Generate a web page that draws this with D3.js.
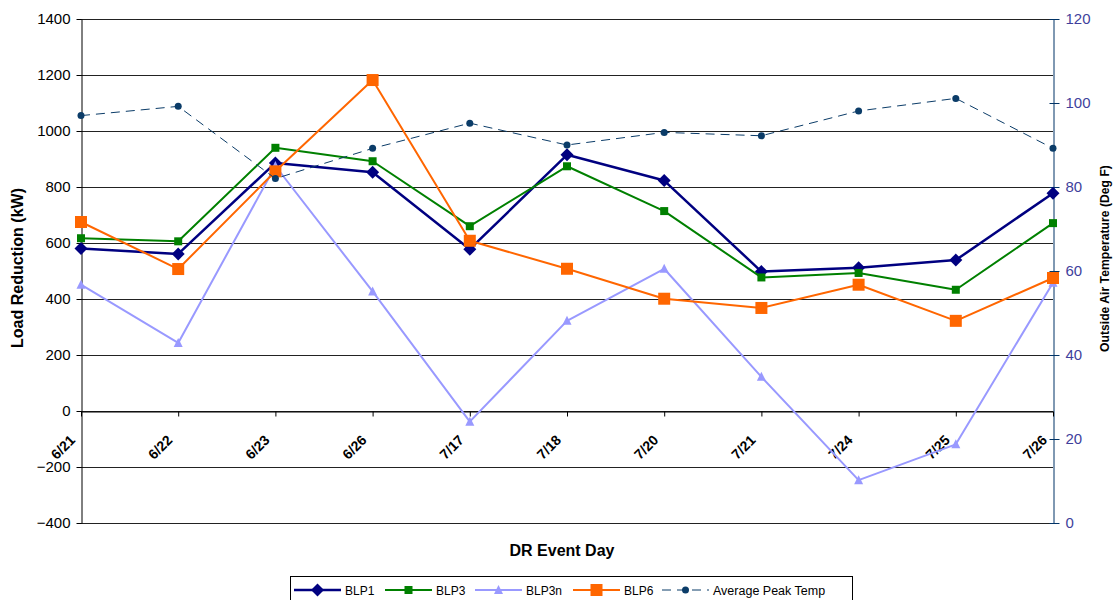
<!DOCTYPE html>
<html>
<head>
<meta charset="utf-8">
<script src="https://cdn.jsdelivr.net/npm/d3@7/dist/d3.min.js"></script>
<style>
  html, body { margin: 0; padding: 0; background: #fff; }
  svg { display: block; font-family: "Liberation Sans", Arial, sans-serif; }
</style>
</head>
<body>
<svg id="chart" width="1117" height="600"></svg>
<script>
// DR event days and measured load reduction (kW) per site
const days = ["6/21", "6/22", "6/23", "6/26", "7/17", "7/18", "7/20", "7/21", "7/24", "7/25", "7/26"];
const blp1  = [580, 561, 886, 853, 578, 915, 823, 498, 512, 539, 778];
const blp3  = [617, 606, 940, 892, 660, 874, 714, 477, 493, 433, 671];
const blp3n = [451, 243, 875, 427, -38, 322, 508, 122, -247, -119, 458];
const blp6  = [675, 507, 856, 1182, 608, 508, 401, 368, 451, 322, 475];
// Average peak outside air temperature (deg F), secondary axis
const peakTemp = [97.0, 99.2, 82.0, 89.2, 95.2, 90.0, 93.0, 92.2, 98.1, 101.1, 89.2];

const loadTicks = [-400, -200, 0, 200, 400, 600, 800, 1000, 1200, 1400];
const tempTicks = [0, 20, 40, 60, 80, 100, 120];

const svg = d3.select("#chart");
const plotLeft = 81, plotRight = 1053, plotTop = 19, plotBottom = 523;

const x = d3.scalePoint().domain(days).range([plotLeft, plotRight]);
const y = d3.scaleLinear().domain([-400, 1400]).range([plotBottom, plotTop]);
const y2 = d3.scaleLinear().domain([0, 120]).range([plotBottom, plotTop]);

// horizontal gridlines
svg.append("g")
  .selectAll("line")
  .data(loadTicks)
  .join("line")
  .attr("x1", plotLeft).attr("x2", plotRight)
  .attr("y1", d => Math.round(y(d)) + 0.5).attr("y2", d => Math.round(y(d)) + 0.5)
  .attr("stroke", "#222").attr("stroke-width", 1);

// left axis
const yAxis = svg.append("g")
  .attr("transform", `translate(${plotLeft + 0.5},0)`)
  .call(d3.axisLeft(y).tickValues(loadTicks).tickFormat(d3.format("d"))
    .tickSize(5).tickSizeOuter(0).tickPadding(6));
yAxis.select(".domain").attr("stroke", "#000");
yAxis.selectAll(".tick line").attr("stroke", "#000");
yAxis.selectAll(".tick text").attr("font-size", 15).attr("fill", "#000")
  .attr("font-family", "Liberation Sans, Arial, sans-serif");

// right axis (temperature)
const axisBlue = "#003366";
const y2Axis = svg.append("g")
  .attr("transform", `translate(${plotRight + 0.5},0)`)
  .call(d3.axisRight(y2).tickValues(tempTicks).tickFormat(d3.format("d"))
    .tickSize(6).tickSizeOuter(0).tickPadding(6));
y2Axis.select(".domain").attr("stroke", axisBlue);
y2Axis.selectAll(".tick line").attr("stroke", axisBlue).attr("x1", -4);
y2Axis.selectAll(".tick text").attr("font-size", 15).attr("fill", "#3f3f9c")
  .attr("font-family", "Liberation Sans, Arial, sans-serif");

// category axis along the zero line
const xAxis = svg.append("g")
  .attr("transform", `translate(0,${Math.round(y(0)) + 0.5})`)
  .call(d3.axisBottom(x).tickSize(5).tickSizeOuter(0).tickFormat(""));
xAxis.select(".domain").attr("stroke", "#000");
xAxis.selectAll(".tick line").attr("stroke", "#000");

svg.append("g")
  .selectAll("text")
  .data(days)
  .join("text")
  .attr("transform", d => `translate(${x(d) - 5},${y(0) + 30}) rotate(-45)`)
  .attr("text-anchor", "end")
  .attr("font-size", 14).attr("font-weight", "bold")
  .text(d => d);

// series
const lineGen = (scale) => d3.line().x((d, i) => x(days[i])).y(d => scale(d));

const series = [
  { name: "BLP1", values: blp1, color: "#000080", width: 2.5, marker: "diamond" },
  { name: "BLP3", values: blp3, color: "#008000", width: 2, marker: "square" },
  { name: "BLP3n", values: blp3n, color: "#9999ff", width: 2, marker: "triangle" },
  { name: "BLP6", values: blp6, color: "#ff6600", width: 2, marker: "bigsquare" }
];

function drawMarker(g, type, color, cx, cy) {
  if (type === "diamond") {
    g.append("path").attr("d", `M${cx},${cy - 6.5}L${cx + 6.5},${cy}L${cx},${cy + 6.5}L${cx - 6.5},${cy}Z`)
      .attr("fill", color);
  } else if (type === "square") {
    g.append("rect").attr("x", cx - 4).attr("y", cy - 4).attr("width", 8).attr("height", 8).attr("fill", color);
  } else if (type === "triangle") {
    g.append("path").attr("d", `M${cx},${cy - 5}L${cx + 4.5},${cy + 4}L${cx - 4.5},${cy + 4}Z`).attr("fill", color);
  } else if (type === "bigsquare") {
    g.append("rect").attr("x", cx - 6).attr("y", cy - 6).attr("width", 12).attr("height", 12).attr("fill", color);
  } else if (type === "dot") {
    g.append("circle").attr("cx", cx).attr("cy", cy).attr("r", 3.5).attr("fill", color);
  }
}

series.forEach(s => {
  const g = svg.append("g");
  g.append("path").datum(s.values)
    .attr("d", lineGen(y))
    .attr("fill", "none").attr("stroke", s.color).attr("stroke-width", s.width)
    .attr("stroke-linejoin", "round");
  s.values.forEach((v, i) => drawMarker(g, s.marker, s.color, x(days[i]), y(v)));
});

// temperature series on secondary axis
const tempColor = "#0b3c68";
const tg = svg.append("g");
tg.append("path").datum(peakTemp)
  .attr("d", lineGen(y2))
  .attr("fill", "none").attr("stroke", tempColor).attr("stroke-width", 1)
  .attr("stroke-dasharray", "9,6");
peakTemp.forEach((v, i) => drawMarker(tg, "dot", tempColor, x(days[i]), y2(v)));

// axis titles
svg.append("text")
  .attr("transform", `translate(23,268) rotate(-90)`)
  .attr("text-anchor", "middle")
  .attr("font-size", 16).attr("font-weight", "bold")
  .text("Load Reduction (kW)");

svg.append("text")
  .attr("x", 562).attr("y", 556)
  .attr("text-anchor", "middle")
  .attr("font-size", 16).attr("font-weight", "bold")
  .text("DR Event Day");

// secondary axis title, cut off at the top edge of its text box
svg.append("defs").append("clipPath").attr("id", "titleClip")
  .append("rect").attr("x", 1085).attr("y", 166).attr("width", 40).attr("height", 300);
svg.append("g")
  .attr("clip-path", "url(#titleClip)")
  .append("text")
  .attr("transform", `translate(1109,352) rotate(-90)`)
  .attr("text-anchor", "start")
  .attr("font-size", 12.2).attr("font-weight", "bold")
  .text("Outside Air Temperature (Deg F)");

// legend
const legend = svg.append("g");
legend.append("rect").attr("x", 290.5).attr("y", 576.5).attr("width", 562).attr("height", 24)
  .attr("fill", "#fff").attr("stroke", "#000").attr("stroke-width", 1);

const legendItems = [
  { label: "BLP1", color: "#000080", width: 2.5, marker: "diamond", x0: 294 },
  { label: "BLP3", color: "#008000", width: 2, marker: "square", x0: 385 },
  { label: "BLP3n", color: "#9999ff", width: 2, marker: "triangle", x0: 475 },
  { label: "BLP6", color: "#ff6600", width: 2, marker: "bigsquare", x0: 573 },
  { label: "Average Peak Temp", color: tempColor, width: 1, marker: "dot", x0: 662, dashed: true }
];
const ly = 590;
legendItems.forEach(it => {
  const g = legend.append("g");
  g.append("line").attr("x1", it.x0).attr("x2", it.x0 + 47).attr("y1", ly).attr("y2", ly)
    .attr("stroke", it.color).attr("stroke-width", it.width)
    .attr("stroke-dasharray", it.dashed ? "9,6" : null);
  drawMarker(g, it.marker, it.color, it.x0 + 23.5, ly);
  g.append("text").attr("x", it.x0 + 51).attr("y", ly + 4.5)
    .attr("font-size", it.dashed ? 12.5 : 12).text(it.label);
});
</script>
</body>
</html>
